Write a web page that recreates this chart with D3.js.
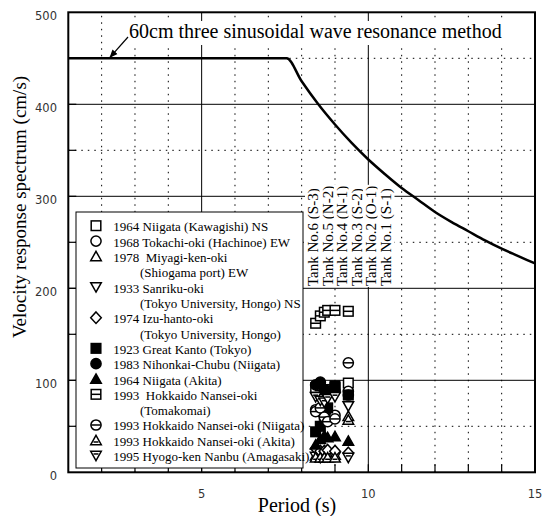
<html>
<head>
<style>
  body { margin: 0; background: #fff; }
  text { font-family: "Liberation Serif", "Times New Roman", serif; fill: #000; }
  .tick-label { font-family: "DejaVu Sans", sans-serif; font-size: 11.5px; fill: #333; }
  .grid-dot { stroke: #000; stroke-width: 1; stroke-dasharray: 1.5,5; }
  .grid-solid { stroke: #000; stroke-width: 1; }
</style>
</head>
<body>
<script src="https://d3js.org/d3.v7.min.js"></script>
<script>
var width = 544, height = 516;

// tank natural periods (s), tank No.6 ... No.1
var periods = [8.42, 8.56, 8.68, 8.78, 9.0, 9.4];
var tankNames = ["Tank No.6 (S-3)", "Tank No.5 (N-2)", "Tank No.4 (N-1)",
                 "Tank No.3 (S-2)", "Tank No.2 (O-1)", "Tank No.1 (S-1)"];

// design curve
var curveT = [1, 7.55, 8, 8.5, 9, 9.5, 10, 10.5, 11, 11.5, 12, 12.5, 13, 13.5, 14, 14.5, 15];
var curveV = [450, 450, 425, 400, 378, 358, 340, 324, 309, 296, 283, 272, 262, 252, 243, 235, 227];

// legend: marker type and text lines
var eqMarks = ["sq", "ci", "tu", "td", "di", "sqf", "cif", "tuf", "sqh", "cih", "tub", "tdb"];
var eqLabels = [
  ["1964 Niigata (Kawagishi) NS"],
  ["1968 Tokachi-oki (Hachinoe) EW"],
  ["1978  Miyagi-ken-oki", "(Shiogama port) EW"],
  ["1933 Sanriku-oki", "(Tokyo University, Hongo) NS"],
  ["1974 Izu-hanto-oki", "(Tokyo University, Hongo)"],
  ["1923 Great Kanto (Tokyo)"],
  ["1983 Nihonkai-Chubu (Niigata)"],
  ["1964 Niigata (Akita)"],
  ["1993  Hokkaido Nansei-oki", "(Tomakomai)"],
  ["1993 Hokkaido Nansei-oki (Niigata)"],
  ["1993 Hokkaido Nansei-oki (Akita)"],
  ["1995 Hyogo-ken Nanbu (Amagasaki)"]
];

// velocity response (cm/s) at each tank period, one row per earthquake
var eqValues = [
  [92, 94, 90, 88, 92, 97],
  [68, 66, 64, 66, 62, 88],
  [18, 18, 19, 19, 19, 61],
  [17, 16, 17, 17, 17, 72],
  [26, 23, 23, 24, 23, 21],
  [44, 50, 62, 70, 94, 84],
  [95, 98, 90, 86, 88, 84],
  [30, 36, 40, 38, 39, 34],
  [162, 170, 174, 176, 176, 175],
  [66, 70, 60, 55, 58, 119],
  [16, 16, 16, 16, 16, 57],
  [82, 78, 76, 80, 82, 16]
];

var xTickLabels = [5, 10, 15];
var yTickLabels = [0, 100, 200, 300, 400, 500];

var svg = d3.select("body").append("svg")
    .attr("width", width)
    .attr("height", height);

var x = d3.scaleLinear().domain([1, 15]).range([68.3, 535]);
var y = d3.scaleLinear().domain([0, 500]).range([472.3, 12.3]);

// grid
var gridG = svg.append("g");
d3.range(2, 15).forEach(function(t) {
  gridG.append("line")
      .attr("class", (t % 5 == 0) ? "grid-solid" : "grid-dot")
      .attr("x1", x(t)).attr("x2", x(t))
      .attr("y1", y(0)).attr("y2", y(500));
});
d3.range(50, 500, 50).forEach(function(v) {
  gridG.append("line")
      .attr("class", (v % 100 == 0) ? "grid-solid" : "grid-dot")
      .attr("x1", x(1)).attr("x2", x(15))
      .attr("y1", y(v)).attr("y2", y(v));
});

// ticks (inward)
d3.range(50, 500, 50).forEach(function(v) {
  svg.append("line").attr("stroke", "#000").attr("stroke-width", 1.2)
      .attr("x1", x(1)).attr("x2", x(1) + 8)
      .attr("y1", y(v)).attr("y2", y(v));
});
d3.range(2, 15).forEach(function(t) {
  svg.append("line").attr("stroke", "#000").attr("stroke-width", 1.2)
      .attr("x1", x(t)).attr("x2", x(t))
      .attr("y1", y(0)).attr("y2", y(0) - 8);
});

// tick labels
yTickLabels.forEach(function(v) {
  svg.append("text").attr("class", "tick-label")
      .attr("x", 57).attr("y", y(v) + 4)
      .attr("text-anchor", "end").attr("dominant-baseline", "central")
      .text(v);
});
xTickLabels.forEach(function(t) {
  svg.append("text").attr("class", "tick-label")
      .attr("x", x(t)).attr("y", 494)
      .attr("text-anchor", "middle").attr("dominant-baseline", "central")
      .text(t);
});

// axis titles
svg.append("text")
    .attr("x", 297).attr("y", 512)
    .attr("text-anchor", "middle")
    .style("font-size", "20px")
    .text("Period (s)");
svg.append("text")
    .attr("transform", "translate(19,207) rotate(-90)")
    .attr("text-anchor", "middle").attr("dominant-baseline", "central")
    .style("font-size", "19px")
    .text("Velocity response spectrum (cm/s)");

// design curve
var line = d3.line()
    .x(function(d) { return x(d[0]); })
    .y(function(d) { return y(d[1]); })
    .curve(d3.curveMonotoneX);
svg.append("path")
    .datum(d3.zip(curveT, curveV))
    .attr("fill", "none")
    .attr("stroke", "#000")
    .attr("stroke-width", 2.5)
    .attr("d", line);

// annotation with white background
var annG = svg.append("g");
var annText = annG.append("text")
    .attr("x", 129).attr("y", 38)
    .style("font-size", "20px")
    .text("60cm three sinusoidal wave resonance method");
var ab = annText.node().getBBox();
annG.insert("rect", "text")
    .attr("x", ab.x - 3).attr("y", ab.y + 1)
    .attr("width", ab.width + 6).attr("height", ab.height + 2)
    .attr("fill", "#fff");
svg.append("defs").append("marker")
    .attr("id", "arrow")
    .attr("viewBox", "0 0 10 10")
    .attr("refX", 9).attr("refY", 5)
    .attr("markerWidth", 7).attr("markerHeight", 7)
    .attr("orient", "auto")
  .append("path").attr("d", "M0,1 L10,5 L0,9 Z").attr("fill", "#000");
svg.append("line")
    .attr("x1", 128).attr("y1", 37)
    .attr("x2", x(2.25)).attr("y2", y(450) - 1)
    .attr("stroke", "#000").attr("stroke-width", 1.2)
    .attr("marker-end", "url(#arrow)");

// tank labels, rotated, white background
tankNames.forEach(function(name, i) {
  var g = svg.append("g");
  var t = g.append("text")
      .attr("transform", "translate(" + (318 + i * 14.5) + ",286) rotate(-90)")
      .style("font-size", "15px")
      .text(name);
  var b = t.node().getBBox();
  g.insert("rect", "text")
      .attr("transform", "translate(" + (318 + i * 14.5) + ",286) rotate(-90)")
      .attr("x", b.x - 1).attr("y", b.y)
      .attr("width", b.width + 2).attr("height", b.height)
      .attr("fill", "#fff");
});

// markers
function triUp(s) { return "M0," + (-s * 1.05) + "L" + (s * 1.1) + "," + (s * 0.9) + "L" + (-s * 1.1) + "," + (s * 0.9) + "Z"; }
function triDown(s) { return "M0," + (s * 1.05) + "L" + (s * 1.1) + "," + (-s * 0.9) + "L" + (-s * 1.1) + "," + (-s * 0.9) + "Z"; }

function drawMarker(g, type, cx, cy) {
  var s = 4.8, sw = 1.5;
  var m = g.append("g").attr("transform", "translate(" + cx + "," + cy + ")");
  var filled = type.slice(-1) == "f";
  var base = type.slice(0, 2);
  var shape;
  if (base == "sq") {
    shape = m.append("rect").attr("x", -s).attr("y", -s).attr("width", 2 * s).attr("height", 2 * s);
  } else if (base == "ci") {
    shape = m.append("circle").attr("r", s + 0.3);
  } else if (base == "tu") {
    shape = m.append("path").attr("d", triUp(s));
  } else if (base == "td") {
    shape = m.append("path").attr("d", triDown(s));
  } else {
    shape = m.append("path").attr("d", "M0," + (-s * 1.2) + "L" + (s * 1.1) + ",0L0," + (s * 1.2) + "L" + (-s * 1.1) + ",0Z");
  }
  shape.attr("fill", filled ? "#000" : "#fff")
      .attr("stroke", "#000").attr("stroke-width", sw);
  var dash = type.slice(-1);
  if (dash == "h") {
    m.append("line").attr("x1", -s).attr("x2", s).attr("y1", 0).attr("y2", 0)
        .attr("stroke", "#000").attr("stroke-width", sw);
  } else if (dash == "b") {
    var yy = base == "tu" ? s * 0.35 : -s * 0.35;
    var hw = s * 1.1 * (1.95 - 1.25) / 1.95 + 0.6;
    m.append("line").attr("x1", -hw).attr("x2", hw).attr("y1", yy).attr("y2", yy)
        .attr("stroke", "#000").attr("stroke-width", sw);
  }
}

var ptsG = svg.append("g");
eqValues.forEach(function(vals, k) {
  vals.forEach(function(v, i) {
    drawMarker(ptsG, eqMarks[k], x(periods[i]), y(v));
  });
});

// legend
var lg = svg.append("g");
lg.append("rect")
    .attr("x", 76).attr("y", 212)
    .attr("width", 227).attr("height", 256)
    .attr("fill", "#fff").attr("stroke", "#000").attr("stroke-width", 1);
var lineY0 = 226.7, lineH = 15.33, lineIdx = 0;
eqLabels.forEach(function(lines, k) {
  var yy = lineY0 + lineIdx * lineH;
  drawMarker(lg, eqMarks[k], 96, yy - 1);
  lines.forEach(function(txt, j) {
    lg.append("text")
        .attr("x", j == 0 ? 113.3 : 140)
        .attr("y", lineY0 + lineIdx * lineH)
        .attr("dominant-baseline", "central")
        .style("font-size", "13px")
        .style("white-space", "pre")
        .text(txt);
    lineIdx++;
  });
});

// frame
svg.append("rect")
    .attr("x", x(1)).attr("y", y(500))
    .attr("width", x(15) - x(1)).attr("height", y(0) - y(500))
    .attr("fill", "none").attr("stroke", "#000").attr("stroke-width", 2);
</script>
</body>
</html>
